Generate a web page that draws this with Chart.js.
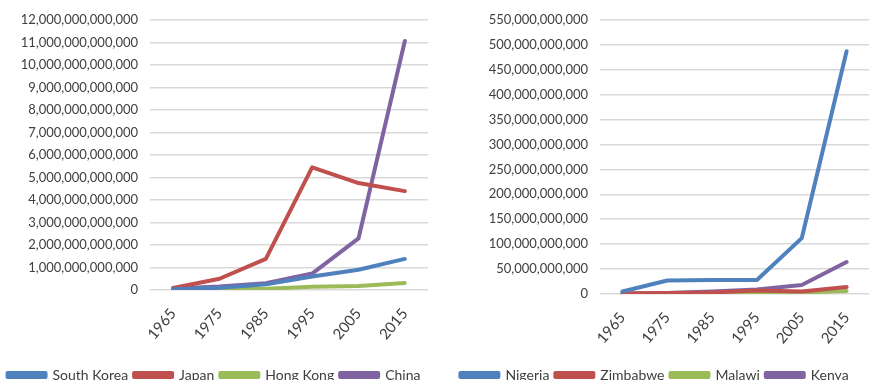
<!DOCTYPE html>
<html>
<head>
<meta charset="utf-8">
<script src="https://cdn.jsdelivr.net/npm/chart.js@4.4.1/dist/chart.umd.min.js"></script>
<style>
  body { margin: 0; background: #fff; overflow: hidden; }
  .box { position: absolute; top: 0; height: 392px; }
  #leftBox { left: 0; width: 440px; }
  #rightBox { left: 440px; width: 441px; }
</style>
</head>
<body>
<div class="box" id="leftBox"><canvas id="leftChart"></canvas></div>
<div class="box" id="rightBox"><canvas id="rightChart"></canvas></div>
<script>
// years on the x axis (both panels)
var years = ['1965', '1975', '1985', '1995', '2005', '2015'];

// left panel, values in dollars
var southKorea = [30e9, 100e9, 250e9, 600e9, 900e9, 1380e9];
var japan = [90e9, 500e9, 1380e9, 5450e9, 4750e9, 4390e9];
var hongKong = [20e9, 50e9, 60e9, 140e9, 180e9, 310e9];
var china = [70e9, 160e9, 300e9, 730e9, 2290e9, 11060e9];

// right panel, values in dollars
var nigeria = [5e9, 27e9, 28e9, 28e9, 112e9, 487e9];
var zimbabwe = [1e9, 2e9, 3e9, 7e9, 5e9, 14e9];
var malawi = [0.2e9, 0.5e9, 1e9, 1.5e9, 3e9, 6e9];
var kenya = [1e9, 2e9, 5e9, 9e9, 18e9, 64e9];

var blue = '#4f81bd', red = '#c0504d', green = '#9bbb59', purple = '#8064a2';
var textColor = '#404040';

Chart.defaults.font.family = 'Lato, "Open Sans", sans-serif';
Chart.defaults.font.size = 13;
Chart.defaults.color = textColor;

function series(label, values, color) {
  return {
    label: label,
    data: values,
    borderColor: color,
    backgroundColor: color,
    borderWidth: 4,
    pointRadius: 0,
    tension: 0,
    borderCapStyle: 'round',
    borderJoinStyle: 'round'
  };
}

function makeChart(id, datasets, maxY, stepY, axisWidth, xHeight) {
  var ctx = document.getElementById(id).getContext('2d');
  return new Chart(ctx, {
    type: 'line',
    data: { labels: years, datasets: datasets },
    options: {
      responsive: true,
      maintainAspectRatio: false,
      animation: false,
      layout: { padding: { top: 12, right: 12, left: 0, bottom: 0 } },
      scales: {
        x: {
          offset: true,
          grid: { display: false },
          border: { display: false },
          ticks: { maxRotation: 50, minRotation: 50, padding: 7, font: { size: 15 } },
          afterFit: function (scale) { scale.height = xHeight; }
        },
        y: {
          min: 0,
          max: maxY,
          grid: { color: '#d9d9d9', lineWidth: 1.5, drawTicks: false },
          border: { display: false },
          ticks: {
            stepSize: stepY,
            padding: 12,
            callback: function (v) { return v.toLocaleString('en-US'); }
          },
          afterFit: function (scale) { scale.width = axisWidth; }
        }
      },
      plugins: {
        legend: {
          position: 'bottom',
          labels: { boxWidth: 38, boxHeight: 4, padding: 6, font: { size: 14 } }
        },
        tooltip: { enabled: false }
      }
    }
  });
}

makeChart('leftChart', [
  series('South Korea', southKorea, blue),
  series('Japan', japan, red),
  series('Hong Kong', hongKong, green),
  series('China', china, purple)
], 12e12, 1e12, 150, 72);

makeChart('rightChart', [
  series('Nigeria', nigeria, blue),
  series('Zimbabwe', zimbabwe, red),
  series('Malawi', malawi, green),
  series('Kenya', kenya, purple)
], 550e9, 50e9, 160, 68);
</script>
</body>
</html>
